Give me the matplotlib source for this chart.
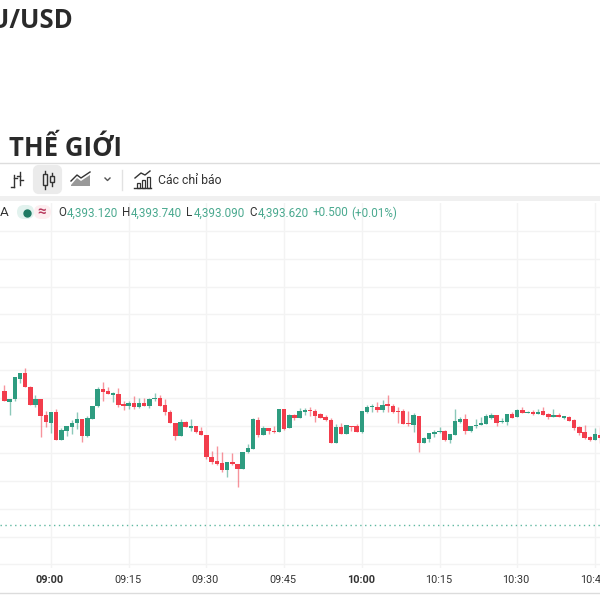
# XAU/USD 1分足チャート（ツールバーと凡例の行を含む）

import matplotlib
matplotlib.use("Agg")
import matplotlib.pyplot as plt
from matplotlib.patches import FancyBboxPatch, Rectangle

plt.rcParams['font.family'] = ['Roboto', 'DejaVu Sans']

first_index = -9 # 09:00 を 0 とした時の先頭の足

opens = [4405.61, 4404.62, 4404.86, 4406.69, 4407.23, 4406.00, 4404.32, 4404.89, 4403.45, 4402.73,
         4403.75, 4401.20, 4402.04, 4402.37, 4402.76, 4403.12, 4401.56, 4403.12, 4404.23, 4405.79,
         4405.61, 4405.22, 4405.37, 4404.44, 4404.23, 4404.53, 4404.14, 4404.53, 4404.29, 4404.89,
         4405.01, 4404.35, 4403.75, 4402.73, 4401.56, 4402.82, 4402.28, 4402.43,
         4402.01, 4401.65, 4399.67, 4399.31, 4399.16, 4398.53, 4399.22, 4399.07, 4398.62, 4400.09,
         4400.42, 4403.03, 4401.65, 4402.25, 4402.04, 4401.89, 4403.99, 4402.25, 4403.42, 4403.21,
         4403.75, 4403.90, 4403.81, 4403.51, 4403.27, 4403.03, 4400.96, 4402.34, 4401.74, 4402.43,
         4402.43, 4401.95, 4403.75, 4404.20, 4404.17, 4403.90, 4404.44, 4404.29, 4403.81, 4403.84,
         4402.73, 4402.58, 4403.36, 4400.93, 4401.26, 4401.74, 4401.89, 4402.01, 4401.20, 4401.65,
         4402.79, 4403.12, 4402.01, 4402.46, 4402.52, 4402.67, 4403.21, 4403.45, 4402.79, 4402.82,
         4403.51, 4403.30, 4403.90, 4403.66, 4403.75, 4403.51, 4403.81, 4403.51, 4403.30, 4403.45,
         4403.21, 4403.27, 4403.00, 4402.34, 4401.89, 4401.44, 4401.20, 4401.65]
highs = [4406.15, 4404.89, 4406.84, 4407.23, 4407.65, 4406.06, 4405.25, 4404.89, 4403.81, 4403.75,
         4403.96, 4402.25, 4402.43, 4402.97, 4403.75, 4403.12, 4403.36, 4404.29, 4405.94, 4406.39,
         4405.97, 4405.52, 4405.91, 4404.68, 4404.68, 4405.13, 4404.98, 4404.98, 4405.01, 4405.40,
         4405.22, 4404.92, 4403.90, 4402.73, 4403.09, 4402.88, 4403.09, 4402.43,
         4402.34, 4401.65, 4400.21, 4400.66, 4400.09, 4399.22, 4400.00, 4399.07, 4400.09, 4400.84,
         4403.21, 4403.27, 4402.49, 4402.25, 4402.49, 4403.99, 4403.99, 4403.51, 4403.51, 4404.11,
         4404.11, 4404.20, 4403.99, 4403.60, 4403.42, 4403.21, 4402.64, 4402.70, 4402.52, 4402.43,
         4402.64, 4403.84, 4404.38, 4404.44, 4404.59, 4404.83, 4405.25, 4404.44, 4404.14, 4403.99,
         4403.84, 4403.60, 4403.36, 4401.50, 4401.80, 4402.10, 4402.34, 4402.10, 4401.71, 4403.99,
         4403.24, 4403.51, 4402.49, 4403.06, 4403.27, 4403.51, 4403.63, 4403.45, 4403.21, 4403.51,
         4403.75, 4403.99, 4404.14, 4403.84, 4403.90, 4403.96, 4404.14, 4403.60, 4403.99, 4403.66,
         4403.39, 4403.33, 4403.12, 4402.46, 4402.52, 4401.56, 4402.25, 4402.34]
lows = [4404.74, 4403.45, 4404.71, 4406.30, 4405.94, 4404.32, 4404.14, 4401.50, 4402.34, 4401.86,
        4401.20, 4401.20, 4401.56, 4401.74, 4402.19, 4401.05, 4401.50, 4403.06, 4404.14, 4404.71,
        4405.31, 4404.59, 4404.14, 4403.90, 4403.99, 4403.99, 4404.05, 4404.23, 4404.05, 4404.74,
        4404.29, 4403.48, 4402.76, 4401.20, 4401.56, 4402.34, 4402.04, 4401.80,
        4401.65, 4399.46, 4399.04, 4398.92, 4398.32, 4397.84, 4398.98, 4397.00, 4398.62, 4400.03,
        4400.42, 4401.44, 4401.65, 4401.74, 4401.80, 4401.89, 4402.10, 4402.25, 4403.00, 4403.21,
        4403.45, 4403.36, 4402.82, 4403.18, 4402.94, 4400.96, 4400.96, 4401.74, 4401.74, 4402.01,
        4401.95, 4401.80, 4403.60, 4403.75, 4403.75, 4403.69, 4403.75, 4403.60, 4402.76, 4402.67,
        4402.46, 4401.95, 4400.09, 4400.90, 4401.02, 4401.50, 4401.80, 4401.11, 4400.96, 4401.65,
        4402.76, 4401.74, 4401.95, 4402.31, 4402.52, 4402.67, 4403.06, 4402.43, 4402.76, 4402.58,
        4403.21, 4403.27, 4403.60, 4403.60, 4403.45, 4403.51, 4403.45, 4403.12, 4403.30, 4403.24,
        4403.12, 4402.88, 4402.07, 4401.65, 4401.32, 4401.11, 4401.20, 4400.90]
closes = [4404.74, 4404.89, 4406.84, 4407.23, 4405.94, 4404.32, 4404.89, 4403.39, 4402.82, 4403.75,
          4401.20, 4402.10, 4402.43, 4402.73, 4403.12, 4401.56, 4403.18, 4404.29, 4405.76, 4405.55,
          4405.31, 4405.43, 4404.38, 4404.26, 4404.53, 4404.14, 4404.53, 4404.29, 4404.89, 4405.01,
          4404.29, 4403.69, 4402.76, 4401.56, 4402.82, 4402.34, 4402.49, 4401.95,
          4401.65, 4399.64, 4399.22, 4399.07, 4398.50, 4399.22, 4399.04, 4398.62, 4400.09, 4400.48,
          4403.06, 4401.65, 4402.25, 4401.98, 4401.95, 4403.99, 4402.19, 4403.42, 4403.21, 4403.81,
          4403.90, 4403.84, 4403.36, 4403.21, 4402.97, 4400.96, 4402.34, 4401.74, 4402.52, 4402.37,
          4401.95, 4403.84, 4404.20, 4404.26, 4403.90, 4404.35, 4404.23, 4403.72, 4403.75, 4402.67,
          4402.67, 4403.45, 4400.96, 4401.35, 4401.80, 4401.95, 4402.01, 4401.20, 4401.71, 4402.88,
          4403.12, 4402.04, 4402.49, 4402.55, 4402.73, 4403.36, 4403.42, 4402.73, 4402.88, 4403.51,
          4403.21, 4403.90, 4403.60, 4403.75, 4403.51, 4403.75, 4403.45, 4403.30, 4403.45, 4403.30,
          4403.33, 4402.94, 4402.31, 4401.83, 4401.35, 4401.20, 4401.71, 4401.35]

last_price = 4393.55 # 点線の現在値
price_ticks = [4390, 4392.5, 4395, 4397.5, 4400, 4402.5, 4405, 4407.5, 4410, 4412.5, 4415, 4417.5, 4420]
time_ticks = [0, 15, 30, 45, 60, 75, 90, 105]
time_labels = ['09:00', '09:15', '09:30', '09:45', '10:00', '10:15', '10:30', '10:45']

green = '#2e9c80'
red = '#f23d4c'
grid_color = '#f3f3f3'

fig = plt.figure(figsize=(6, 6), dpi=100)

# チャート部分 (y: 203px-568px)
ax = fig.add_axes([0, 1 - 568 / 600, 1, 365 / 600])
for i in range(len(opens)):
    x = first_index + i
    color = green if closes[i] >= opens[i] else red
    ax.vlines(x, lows[i], highs[i], color=color, linewidth=1.0, alpha=0.55, zorder=3)
    ax.bar(x, abs(closes[i] - opens[i]), bottom=min(opens[i], closes[i]), width=0.86,
           color=color, linewidth=0, zorder=4)

ax.axhline(last_price, color='#5fb8a0', linewidth=1.0, linestyle=(0, (1, 2.5)), zorder=2)
ax.set_xlim(-9.85, 105.98)
ax.set_ylim(4389.68, 4422.53)
ax.set_xticks(time_ticks)
ax.set_yticks(price_ticks)
ax.grid(color=grid_color, linewidth=1.0)
ax.set_axisbelow(True)
ax.tick_params(length=0, labelbottom=False, labelleft=False)
for spine in ax.spines.values():
    spine.set_visible(False)

# 時間軸ラベル
for pos, label in zip(time_ticks, time_labels):
    x_px = 50 + 5.18 * pos
    weight = 'bold' if label in ('09:00', '10:00') else 'normal'
    fig.text(x_px / 600, 1 - 580 / 600, label, ha='center', va='center', fontsize=7.8,
             color='#333333', weight=weight)

# タイトル，ツールバーはピクセル座標で描く
ui = fig.add_axes([0, 0, 1, 1], facecolor='none')
ui.set_xlim(0, 600)
ui.set_ylim(600, 0)
ui.axis('off')

ui.text(73, 20, 'XAU/USD', ha='right', va='center', fontsize=18.5, weight='bold',
        color='#2a2a2a', family=['Open Sans', 'DejaVu Sans'])
ui.text(9, 148.5, 'THẾ GIỚI', ha='left', va='center', fontsize=18.5, weight='bold',
        color='#2a2a2a', family=['Open Sans', 'DejaVu Sans'])

ui.plot([0, 600], [163, 163], color='#dddddd', linewidth=1)
ui.add_patch(Rectangle((0, 196), 600, 5, color='#f0f0f0', linewidth=0))
ui.plot([0, 600], [593, 593], color='#dcdcdc', linewidth=1)

# バーのアイコン
icon = '#333333'
ui.plot([14, 14], [175, 187], color=icon, linewidth=1)
ui.plot([11, 14], [187, 187], color=icon, linewidth=1)
ui.plot([14, 17], [178, 178], color=icon, linewidth=1)
ui.plot([20, 20], [172, 185], color=icon, linewidth=1)
ui.plot([17, 20], [176, 176], color=icon, linewidth=1)
ui.plot([20, 23], [180, 180], color=icon, linewidth=1)

# ローソク足のアイコン
ui.add_patch(FancyBboxPatch((35, 167), 25, 25, boxstyle='round,pad=0,rounding_size=4',
                            facecolor='#ebebeb', edgecolor='#ebebeb', linewidth=3))
ui.plot([45, 45], [171, 189], color=icon, linewidth=1)
ui.add_patch(Rectangle((43, 174), 4, 11, facecolor='#ebebeb', edgecolor=icon, linewidth=1, zorder=3))
ui.plot([52, 52], [173, 186], color=icon, linewidth=1)
ui.add_patch(Rectangle((50, 176), 4, 6, facecolor='#ebebeb', edgecolor=icon, linewidth=1, zorder=3))

# エリアのアイコン
ui.fill([71, 77, 81, 90, 90, 71], [185, 178, 181, 175, 186, 186], color='#999999', linewidth=0)
ui.plot([71, 77, 81, 90], [181, 175, 178, 172], color=icon, linewidth=1)

# 矢印と区切り線
ui.plot([105, 107.5, 110], [178, 180.5, 178], color='#555555', linewidth=1)
ui.plot([122, 122], [170, 190], color='#e2e2e2', linewidth=1)

# インジケーターのアイコン
ui.plot([135, 141, 145, 150], [178, 173, 175, 171], color=icon, linewidth=1)
for bx, bh in zip([137, 142, 147], [5, 8, 11]):
    ui.add_patch(Rectangle((bx, 188 - bh), 3, bh, facecolor='white', edgecolor=icon, linewidth=0.9))
ui.plot([134, 151], [188, 188], color=icon, linewidth=1)

ui.text(158, 180, 'Các chỉ báo', ha='left', va='center', fontsize=8.8, color='#333333')

# 凡例の行
ui.text(0, 212.5, 'A', ha='left', va='center', fontsize=9.6, color='#333333')
ui.add_patch(FancyBboxPatch((17, 205), 17, 14, boxstyle='round,pad=0,rounding_size=7',
                            facecolor='#e2f2ee', edgecolor='none'))
ui.add_patch(FancyBboxPatch((34, 205), 17, 14, boxstyle='round,pad=0,rounding_size=7',
                            facecolor='#fdeef0', edgecolor='none'))
ui.plot([26.5], [212.5], marker='o', markersize=5, color='#1f7a63')
ui.text(42, 212.5, '≈', ha='center', va='center', fontsize=11, color='#b83a5e', weight='bold')

legend_parts = [(58, 'O', '#333333'), (66.5, '4,393.120', '#4aa98f'),
                (122, 'H', '#333333'), (131, '4,393.740', '#4aa98f'),
                (186, 'L', '#333333'), (194, '4,393.090', '#4aa98f'),
                (249.5, 'C', '#333333'), (258, '4,393.620', '#4aa98f'),
                (313, '+0.500', '#4aa98f'), (351, '(+0.01%)', '#4aa98f')]
for x_px, s, color in legend_parts:
    ui.text(x_px, 213, s, ha='left', va='center', fontsize=8.4, color=color)

fig.savefig('out.png', dpi=100)
